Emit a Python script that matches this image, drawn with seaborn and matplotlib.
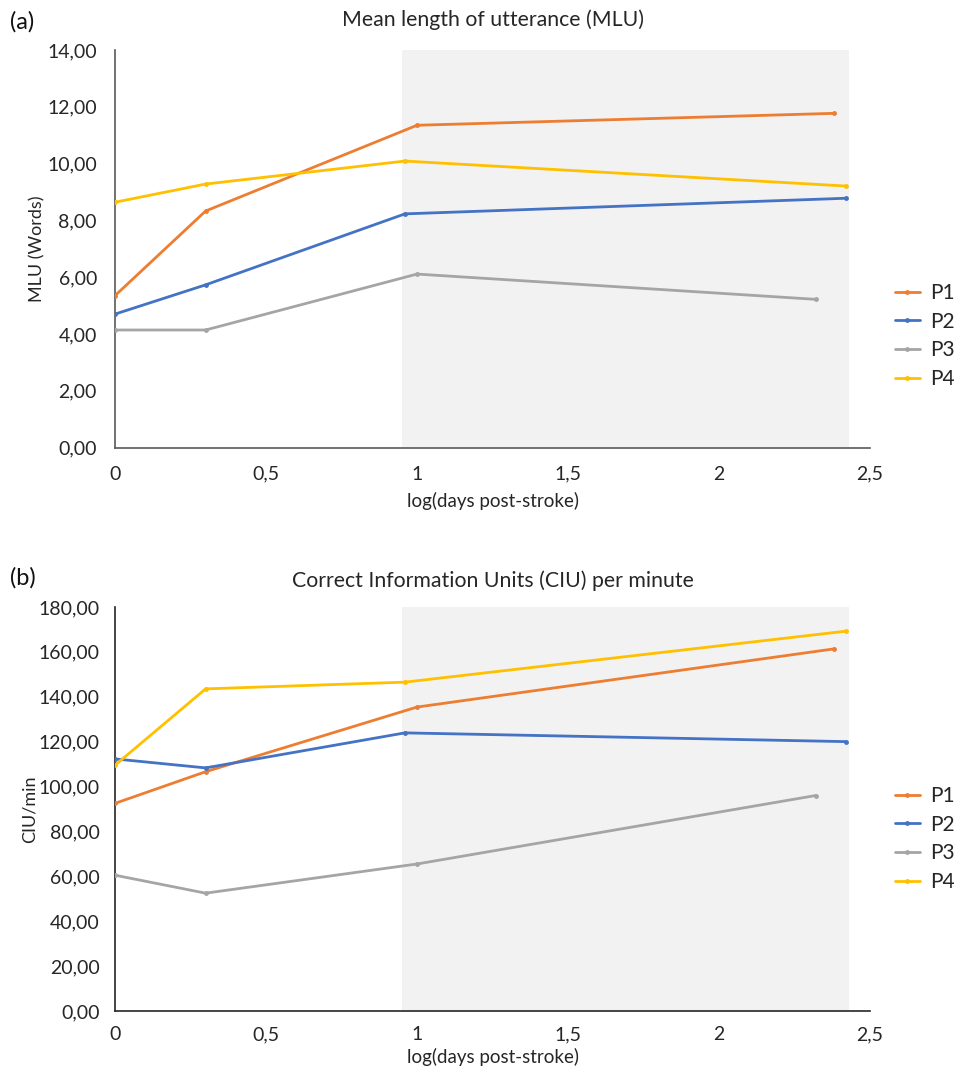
import matplotlib
matplotlib.use("Agg")
import matplotlib.pyplot as plt
import seaborn as sns
import pandas as pd
from matplotlib.ticker import FuncFormatter, FixedLocator

sns.set_theme(style="white")
plt.rcParams['font.family'] = ['Lato', 'DejaVu Sans']

# ---- data ----
participants = ["P1", "P2", "P3", "P4"]
x_P1 = [0.0, 0.30, 1.00, 2.38]
x_P2 = [0.0, 0.30, 0.96, 2.42]
x_P3 = [0.0, 0.30, 1.00, 2.32]
x_P4 = [0.0, 0.30, 0.96, 2.42]

mlu_P1 = [5.35, 8.33, 11.35, 11.77]
mlu_P2 = [4.70, 5.73, 8.23, 8.78]
mlu_P3 = [4.14, 4.14, 6.11, 5.22]
mlu_P4 = [8.64, 9.28, 10.09, 9.21]

ciu_P1 = [92.5, 106.6, 135.4, 161.3]
ciu_P2 = [112.3, 108.3, 123.9, 120.0]
ciu_P3 = [60.5, 52.5, 65.5, 96.0]
ciu_P4 = [109.5, 143.5, 146.5, 169.2]

x_ticks = [0, 0.5, 1, 1.5, 2, 2.5]
x_tick_labels = ["0", "0,5", "1", "1,5", "2", "2,5"]
shade_range = (0.95, 2.43)

colors = {"P1": "#ED7D31", "P2": "#4472C4", "P3": "#A5A5A5", "P4": "#FFC000"}

xs = {"P1": x_P1, "P2": x_P2, "P3": x_P3, "P4": x_P4}
mlu = {"P1": mlu_P1, "P2": mlu_P2, "P3": mlu_P3, "P4": mlu_P4}
ciu = {"P1": ciu_P1, "P2": ciu_P2, "P3": ciu_P3, "P4": ciu_P4}

rows = []
for p in participants:
    for xv, m, c in zip(xs[p], mlu[p], ciu[p]):
        rows.append({"participant": p, "logdays": xv, "MLU": m, "CIU": c})
df = pd.DataFrame(rows)

fig = plt.figure(figsize=(9.6, 10.71), dpi=100)
ax1 = fig.add_axes([0.1198, 0.5821, 0.7865, 0.3712])
ax2 = fig.add_axes([0.1198, 0.0560, 0.7865, 0.3773])

comma2 = FuncFormatter(lambda v, pos: f"{v:.2f}".replace(".", ","))

def style(ax, ycol, ymax, ystep, ylabel, title, ticks_visible, spine_color, leg_y,
          title_pad, xlabel_pad, ylabel_pad):
    ax.axvspan(shade_range[0], shade_range[1], color="#F2F2F2", zorder=0, lw=0)
    sns.lineplot(data=df, x="logdays", y=ycol, hue="participant", palette=colors,
                 marker="o", markersize=3.5, markeredgewidth=0, linewidth=2.0,
                 ax=ax, sort=False, estimator=None, legend=True, zorder=3)
    ax.set_xlim(0, 2.5)
    ax.set_ylim(0, ymax)
    ax.xaxis.set_major_locator(FixedLocator(x_ticks))
    ax.set_xticklabels(x_tick_labels)
    ax.yaxis.set_major_locator(FixedLocator([i * ystep for i in range(int(ymax / ystep) + 1)]))
    ax.yaxis.set_major_formatter(comma2)
    for s in ["top", "right"]:
        ax.spines[s].set_visible(False)
    for s in ["left", "bottom"]:
        ax.spines[s].set_color(spine_color)
        ax.spines[s].set_linewidth(1.2)
    if ticks_visible:
        ax.tick_params(axis="both", length=6, width=1.2, color=spine_color, direction="out", pad=7)
    else:
        ax.tick_params(axis="both", length=0, pad=11)
    ax.tick_params(axis="both", labelsize=14, labelcolor="#262626")
    ax.set_xlabel("log(days post-stroke)", fontsize=13.5, color="#262626", labelpad=xlabel_pad)
    ax.set_ylabel(ylabel, fontsize=13, color="#262626", labelpad=ylabel_pad)
    ax.set_title(title, fontsize=15.3, color="#262626", pad=title_pad)
    ax.legend(loc="center left", bbox_to_anchor=(0.932, leg_y), bbox_transform=fig.transFigure,
              frameon=False, fontsize=15, handlelength=1.2, labelspacing=0.42,
              handletextpad=0.5, borderpad=0, borderaxespad=0, title=None)

style(ax1, "MLU", 14, 2, "MLU (Words)", "Mean length of utterance (MLU)", True, "#595959",
      1 - 336 / 1071, 17, 7, 1)
style(ax2, "CIU", 180, 20, "CIU/min", "Correct Information Units (CIU) per minute", False, "#262626",
      1 - 839 / 1071, 14, 3, 1)

fig.text(0.010, 1 - 22 / 1071, "(a)", fontsize=17, va="center", ha="left", color="#111111")
fig.text(0.010, 1 - 578 / 1071, "(b)", fontsize=17, va="center", ha="left", color="#111111")

fig.savefig("out.png", dpi=100)
